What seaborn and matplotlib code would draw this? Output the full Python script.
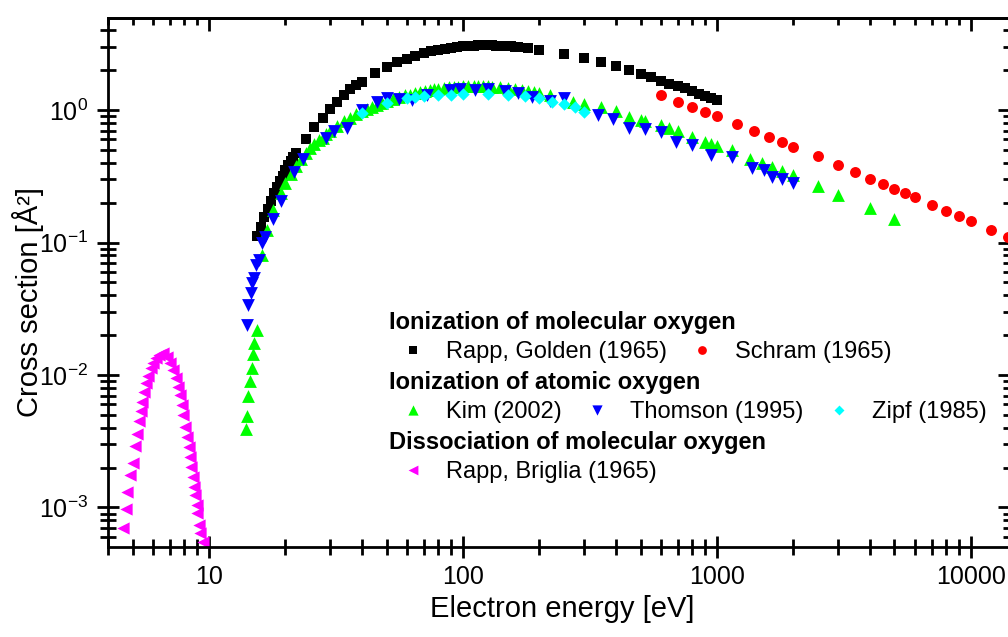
import matplotlib
matplotlib.use("Agg")
import matplotlib.pyplot as plt
import matplotlib.ticker as mticker
from matplotlib.legend import Legend
import seaborn as sns
import numpy as np
import pandas as pd

# ionization of molecular oxygen
rg_energy = [15.5, 16, 16.5, 17, 17.5, 18, 18.5, 19, 19.5, 20, 20.5, 21, 21.5, 22,
             24, 26, 28, 30, 32, 34, 36, 38, 40, 45, 50, 55, 60, 65, 70, 75, 80, 85,
             90, 95, 100, 105, 110, 115, 120, 125, 130, 135, 140, 145, 150, 155, 160,
             165, 180, 200, 250, 300, 350, 400, 450, 500, 550, 600, 650, 700, 750,
             800, 850, 900, 950, 1000]
rg_sigma = [0.112, 0.131, 0.156, 0.18, 0.205, 0.235, 0.262, 0.29, 0.32, 0.35, 0.385,
            0.415, 0.445, 0.47, 0.60, 0.74, 0.87, 1.02, 1.15, 1.30, 1.43, 1.55, 1.63,
            1.90, 2.11, 2.30, 2.43, 2.58, 2.68, 2.77, 2.85, 2.91, 2.96, 3.00, 3.03,
            3.05, 3.07, 3.08, 3.09, 3.09, 3.08, 3.07, 3.06, 3.05, 3.03, 3.02, 3.00,
            2.99, 2.95, 2.86, 2.66, 2.47, 2.30, 2.15, 2.00, 1.87, 1.77, 1.65, 1.58,
            1.52, 1.46, 1.39, 1.33, 1.27, 1.23, 1.19]

schram_energy = [600, 700, 800, 900, 1000, 1200, 1400, 1600, 1800, 2000, 2500, 3000,
                 3500, 4000, 4500, 5000, 5500, 6000, 7000, 8000, 9000, 10000, 12000, 14000]
schram_sigma = [1.30, 1.15, 1.05, 0.966, 0.90, 0.784, 0.695, 0.626, 0.573, 0.526, 0.450,
                0.385, 0.340, 0.301, 0.276, 0.253, 0.236, 0.221, 0.192, 0.173, 0.158,
                0.145, 0.124, 0.110]

# ionization of atomic oxygen
kim_energy = [14.0, 14.1, 14.3, 14.5, 14.7, 14.9, 15.1, 15.5, 16.2, 16.9, 17.9, 19.2,
              20, 21, 22, 23, 24, 25, 26, 27, 28, 29, 30, 32, 34, 36, 38, 40, 42, 44,
              46, 48, 50, 53, 56, 59, 62, 65, 68, 71, 74, 77, 80, 84, 88, 92, 96, 100,
              105, 110, 115, 120, 125, 130, 140, 150, 160, 170, 180, 190, 200, 220,
              270, 300, 350, 400, 450, 500, 520, 600, 650, 700, 800, 900, 950, 1000,
              1150, 1350, 1500, 1650, 1800, 2000, 2500, 3000, 4000, 5000]
kim_sigma = [0.0039, 0.0049, 0.0069, 0.0090, 0.0113, 0.0144, 0.0175, 0.0219, 0.080,
             0.124, 0.176, 0.236, 0.28, 0.33, 0.38, 0.425, 0.47, 0.515, 0.555, 0.59,
             0.62, 0.66, 0.70, 0.76, 0.82, 0.87, 0.93, 0.98, 1.02, 1.06, 1.10, 1.14,
             1.17, 1.21, 1.25, 1.29, 1.31, 1.34, 1.36, 1.39, 1.41, 1.43, 1.45, 1.46,
             1.48, 1.49, 1.50, 1.51, 1.52, 1.52, 1.52, 1.51, 1.51, 1.50, 1.48, 1.46,
             1.44, 1.42, 1.40, 1.37, 1.34, 1.30, 1.15, 1.11, 1.05, 0.98, 0.885, 0.84,
             0.83, 0.77, 0.73, 0.69, 0.625, 0.573, 0.553, 0.535, 0.50, 0.427, 0.398,
             0.371, 0.346, 0.323, 0.267, 0.228, 0.182, 0.150]

thomson_energy = [14.1, 14.3, 14.6, 14.8, 15.0, 15.3, 15.7, 16.2, 16.6, 17.9, 19.2, 21.6,
                  23.4, 29, 31, 35, 40, 46, 50, 56, 63, 72, 89, 97, 111, 125, 146, 165,
                  187, 220, 250, 340, 390, 450, 520, 600, 690, 800, 950, 1150, 1370,
                  1530, 1650, 1800, 2000]
thomson_sigma = [0.0238, 0.0337, 0.0416, 0.0495, 0.054, 0.0676, 0.0738, 0.099, 0.110,
                 0.150, 0.206, 0.340, 0.427, 0.62, 0.695, 0.73, 1.0, 1.15, 1.23, 1.21,
                 1.19, 1.30, 1.42, 1.44, 1.42, 1.44, 1.39, 1.34, 1.25, 1.17, 1.23, 0.917,
                 0.855, 0.73, 0.72, 0.68, 0.573, 0.544, 0.457, 0.442, 0.365, 0.353,
                 0.312, 0.302, 0.281]

zipf_energy = [40, 50, 60, 65, 70, 80, 90, 100, 125, 150, 175, 200, 225, 250, 275, 300]
zipf_sigma = [0.95, 1.13, 1.23, 1.25, 1.28, 1.30, 1.30, 1.32, 1.32, 1.30, 1.28, 1.23,
              1.15, 1.11, 1.05, 0.966]

# dissociation of molecular oxygen
rb_energy = [4.6, 4.7, 4.75, 4.9, 5.0, 5.1, 5.2, 5.3, 5.4, 5.45, 5.55, 5.65, 5.75, 5.9,
             6.0, 6.2, 6.35, 6.6, 6.85, 7.0, 7.2, 7.4, 7.55, 7.7, 7.8, 7.9, 8.05, 8.2,
             8.35, 8.4, 8.5, 8.65, 8.75, 8.8, 8.95, 9.0, 9.15, 9.2, 9.45]
rb_sigma = [7.0e-4, 9.7e-4, 1.31e-3, 1.76e-3, 2.17e-3, 2.91e-3, 3.59e-3, 4.50e-3,
            5.35e-3, 6.25e-3, 7.44e-3, 8.71e-3, 9.83e-3, 0.0113, 0.0123, 0.0134,
            0.0142, 0.0147, 0.0137, 0.0123, 0.0109, 0.0095, 0.0081, 0.00706, 0.00594,
            0.00499, 0.00405, 0.00341, 0.00286, 0.00241, 0.00202, 0.00170, 0.00143,
            0.00124, 0.00104, 0.00091, 0.00074, 0.00064, 0.00055]

sns.set_style("ticks")
plt.rcParams["font.family"] = ["Liberation Sans", "DejaVu Sans"]
plt.rcParams["mathtext.default"] = "regular"
plt.rcParams["axes.edgecolor"] = "black"
plt.rcParams["axes.labelcolor"] = "black"
plt.rcParams["text.color"] = "black"
plt.rcParams["xtick.color"] = "black"
plt.rcParams["ytick.color"] = "black"

fig = plt.figure(figsize=(10.08, 6.37), dpi=100)
ax = fig.add_axes([0.1071, 0.1413, 0.8948, 0.8304])

series = [
    (rg_energy, rg_sigma, "s", "black", 48, "Rapp, Golden (1965)"),
    (schram_energy, schram_sigma, "o", "#ff0000", 62, "Schram (1965)"),
    (kim_energy, kim_sigma, "^", "#00ff00", 85, "Kim (2002)"),
    (thomson_energy, thomson_sigma, "v", "#0000ff", 85, "Thomson (1995)"),
    (zipf_energy, zipf_sigma, "D", "#00ffff", 40, "Zipf (1985)"),
    (rb_energy, rb_sigma, "<", "#ff00ff", 78, "Rapp, Briglia (1965)"),
]
handles = {}
for e, s, m, c, size, lab in series:
    sns.scatterplot(x=e, y=s, marker=m, color=c, s=size, linewidth=0, ax=ax)
    handles[lab] = ax.collections[-1]

ax.set_xscale("log")
ax.set_yscale("log")
ax.set_xlim(4, 14240)
ax.set_ylim(5.03e-4, 4.95)

for sp in ax.spines.values():
    sp.set_linewidth(2)
ax.tick_params(which="major", direction="inout", length=16, width=2, labelsize=18,
               top=False, right=False)
ax.tick_params(which="minor", direction="inout", length=11, width=2,
               top=False, right=False)
ax.tick_params(axis="x", which="major", pad=5)
ax.tick_params(axis="y", which="major", pad=6)
ax.xaxis.set_major_formatter(mticker.FuncFormatter(lambda v, p: f"{v:g}"))
ax.xaxis.set_minor_formatter(mticker.NullFormatter())
ax.yaxis.set_minor_formatter(mticker.NullFormatter())

secx = ax.secondary_xaxis("top")
secx.tick_params(which="major", direction="in", length=9, width=2, labeltop=False)
secx.tick_params(which="minor", direction="in", length=5, width=2, labeltop=False)
secy = ax.secondary_yaxis("right")
secy.tick_params(which="major", direction="in", length=9, width=2, labelright=False)
secy.tick_params(which="minor", direction="in", length=5, width=2, labelright=False)
for sec in (secx, secy):
    for sp in sec.spines.values():
        sp.set_linewidth(2)

ax.set_xlabel("Electron energy [eV]", fontsize=21)
ax.xaxis.set_label_coords(0.5033, -0.0907)
ax.set_ylabel("Cross section [Å²]", fontsize=21)
ax.yaxis.set_label_coords(-0.071, 0.463)

groups = [
    ("Ionization of molecular oxygen", ["Rapp, Golden (1965)", "Schram (1965)"], 0.4461),
    ("Ionization of atomic oxygen", ["Kim (2002)", "Thomson (1995)", "Zipf (1985)"], 0.3324),
    ("Dissociation of molecular oxygen", ["Rapp, Briglia (1965)"], 0.2192),
]
for title, labs, ypos in groups:
    leg = Legend(ax, [handles[l] for l in labs], labs, title=title, ncol=len(labs),
                 loc="upper left", bbox_to_anchor=(0.3115, ypos), frameon=False,
                 fontsize=17, title_fontproperties={"weight": "bold", "size": 17},
                 alignment="left", borderpad=0, borderaxespad=0, handlelength=2.0,
                 handletextpad=0.4, columnspacing=0.5, labelspacing=0.31,
                 markerscale=0.8, scatteryoffsets=[0.5])
    ax.add_artist(leg)

fig.savefig("out.png", dpi=100)
